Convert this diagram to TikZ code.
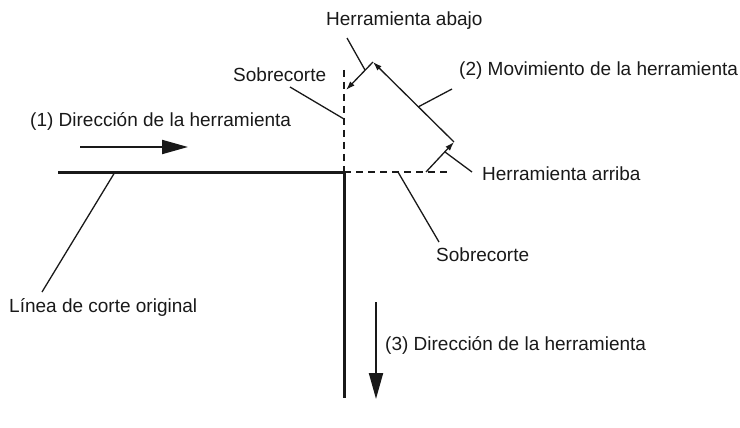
\documentclass[tikz,border=0pt]{standalone}
\usepackage{fontspec}
\setmainfont{Liberation Sans}
\usetikzlibrary{arrows.meta}
\begin{document}
\begin{tikzpicture}[x=1pt,y=-1pt,
  lbl/.style={anchor=base west,inner sep=0pt,text=black!90,font=\fontsize{19}{23}\selectfont},
  leader/.style={line width=1.3pt,draw=black!90},
  cutline/.style={line width=3pt,draw=black!90,line join=miter},
  overcut/.style={line width=1.3pt,draw=black!90,dash pattern=on 7pt off 5pt},
  move/.style={line width=1.3pt,draw=black!90,-{Latex[length=9pt,width=6pt]}},
  dirarrow/.style={line width=2pt,draw=black!90,-{Triangle[length=26pt,width=14pt]}}]
\useasboundingbox (0,0) rectangle (740,428);

% cut line
\coordinate (A) at (58,172);
\coordinate (C) at (344,172);
\coordinate (B) at (344,398);
\draw[cutline] (A) -- (C) -- (B);

% overcut dashed lines
\coordinate (Vt) at (344,70);
\coordinate (He) at (450,172);
\draw[overcut] (Vt) -- (C);
\draw[overcut] (C) -- (He);

% tool movement
\coordinate (p0) at (426,172);
\coordinate (p1) at (454,142);
\coordinate (p2) at (373,62);
\coordinate (p3) at (346,90);
\draw[move] (p0) -- (p1);
\draw[move] (p1) -- (p2);
\draw[move] (p2) -- (p3);

% direction arrows
\coordinate (d1s) at (80,147);
\coordinate (d1e) at (188,147);
\draw[dirarrow] (d1s) -- (d1e);
\coordinate (d3s) at (376,302);
\coordinate (d3e) at (376,399);
\draw[dirarrow] (d3s) -- (d3e);

% labels
\node[lbl] (tabajo) at (326,26) {Herramienta abajo};
\node[lbl] (tsob1) at (233,82) {Sobrecorte};
\node[lbl] (tmov) at (459,76) {(2) Movimiento de la herramienta};
\node[lbl] (tdir1) at (30,127) {(1) Dirección de la herramienta};
\node[lbl] (tarr) at (482,180) {Herramienta arriba};
\node[lbl] (tsob2) at (436,261) {Sobrecorte};
\node[lbl] (tlin) at (9,312) {Línea de corte original};
\node[lbl] (tdir3) at (385,350) {(3) Dirección de la herramienta};

% leader lines
\coordinate (la1) at (347,38);   \coordinate (la2) at (365,70);
\coordinate (ls1) at (290,87);   \coordinate (ls2) at (344,119);
\coordinate (lm1) at (452,89);   \coordinate (lm2) at (418,107);
\coordinate (lr1) at (472,172);  \coordinate (lr2) at (445,152);
\coordinate (lo1) at (439,242);  \coordinate (lo2) at (398,172);
\coordinate (ll1) at (42,292);   \coordinate (ll2) at (115,172);
\draw[leader] (la1) -- (la2);
\draw[leader] (ls1) -- (ls2);
\draw[leader] (lm1) -- (lm2);
\draw[leader] (lr1) -- (lr2);
\draw[leader] (lo1) -- (lo2);
\draw[leader] (ll1) -- (ll2);
\end{tikzpicture}
\end{document}
